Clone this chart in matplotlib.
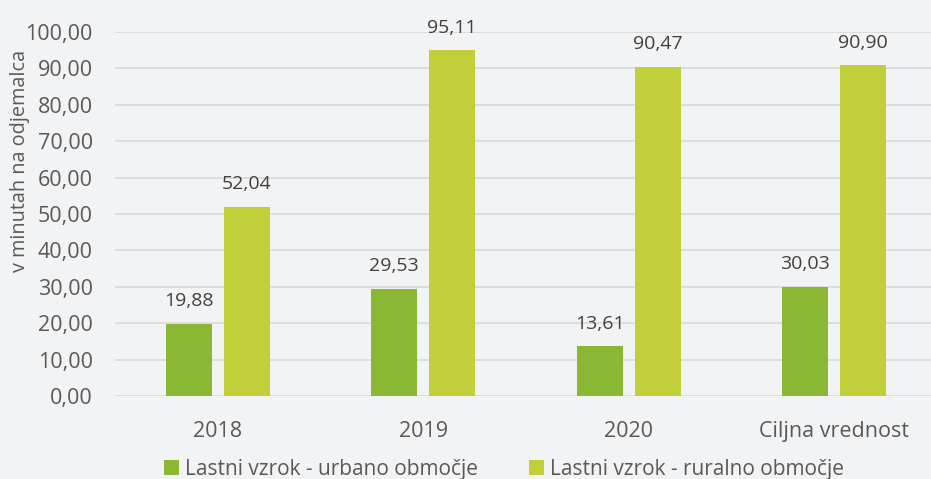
import matplotlib.pyplot as plt
import numpy as np

plt.rcParams["font.family"] = ["Open Sans", "DejaVu Sans"]

categories = ["2018", "2019", "2020", "Ciljna vrednost"]
urban = [19.88, 29.53, 13.61, 30.03]
rural = [52.04, 95.11, 90.47, 90.90]
series_names = ["Lastni vzrok - urbano območje", "Lastni vzrok - ruralno območje"]

bg = "#f2f3f5"
c_urban = "#8bb834"
c_rural = "#c2cf3a"


def fmt(v):
    return f"{v:.2f}".replace(".", ",")


fig = plt.figure(figsize=(9.31, 4.79), dpi=100, facecolor=bg)
ax = fig.add_axes([115 / 931, 83 / 479, 822 / 931, 364 / 479], facecolor=bg)

x = np.arange(len(categories))
w = 0.224
off = 0.141
b1 = ax.bar(x - off, urban, w, color=c_urban, label=series_names[0], zorder=3)
b2 = ax.bar(x + off, rural, w, color=c_rural, label=series_names[1], zorder=3)

for bars, vals in ((b1, urban), (b2, rural)):
    for r, v in zip(bars, vals):
        ax.annotate(fmt(v), (r.get_x() + r.get_width() / 2, v), xytext=(0, 9.5),
                    textcoords="offset points", ha="center", va="bottom",
                    fontsize=14, color="#404040")

ax.set_xlim(-0.5, len(categories) - 0.5)
ax.set_ylim(0, 100)
ax.set_yticks(np.arange(0, 101, 10))
ax.set_yticklabels([fmt(v) for v in np.arange(0, 101, 10)])
ax.set_xticks(x)
ax.set_xticklabels(categories)
ax.grid(axis="y", color="#d9d9d9", linewidth=1.2, zorder=0)
for s in ax.spines.values():
    s.set_visible(False)
ax.tick_params(axis="both", length=0, labelsize=15.5, colors="#595959")
ax.tick_params(axis="x", pad=18)
ax.tick_params(axis="y", pad=16)
ax.set_ylabel("v minutah na odjemalca", fontsize=14.3, color="#595959")
ax.yaxis.set_label_coords(-0.104, 0.645)

fig.legend(loc="center", bbox_to_anchor=(504 / 931, 1 - 469 / 479), ncol=2,
           frameon=False, fontsize=15, labelcolor="#595959",
           handlelength=0.75, handleheight=0.75, handletextpad=0.3,
           columnspacing=2.4)

fig.savefig("out.png", dpi=100, facecolor=bg)
